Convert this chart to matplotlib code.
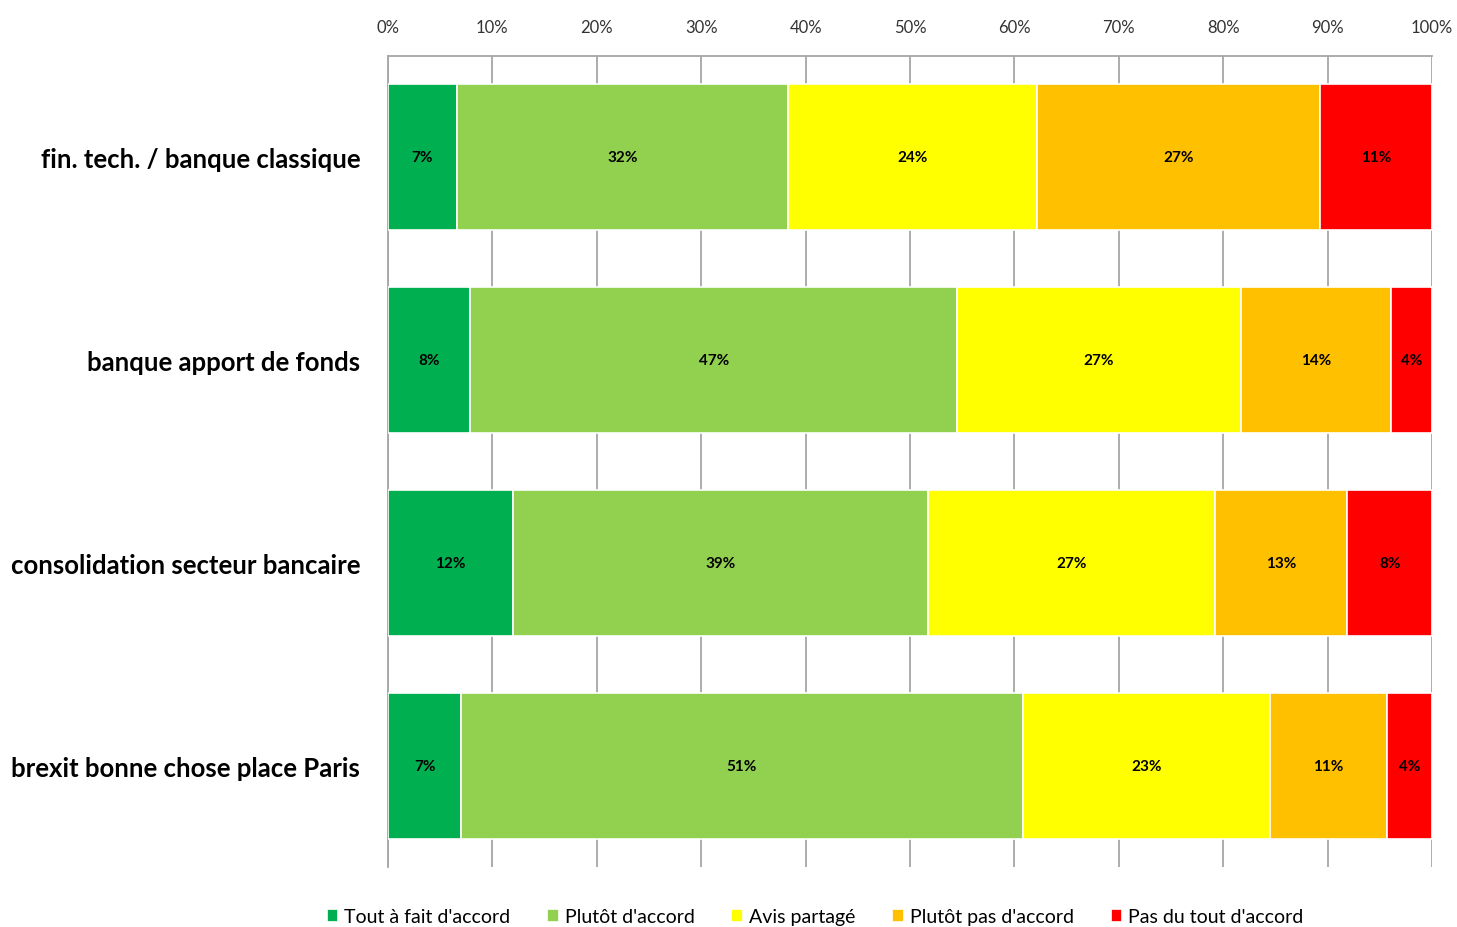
import matplotlib
matplotlib.use("Agg")
import matplotlib.pyplot as plt
import numpy as np

categories = ["fin. tech. / banque classique", "banque apport de fonds",
              "consolidation secteur bancaire", "brexit bonne chose place Paris"]
series_names = ["Tout à fait d'accord", "Plutôt d'accord", "Avis partagé",
                "Plutôt pas d'accord", "Pas du tout d'accord"]
# measured segment widths (%) per category
tout_fait = [6.6, 7.9, 12.0, 7.0]
plutot = [31.7, 46.6, 39.7, 53.8]
avis = [23.9, 27.2, 27.5, 23.7]
plutot_pas = [27.1, 14.4, 12.7, 11.2]
pas_du_tout = [10.7, 3.9, 8.1, 4.3]
# labels as printed on the chart
labels_tout_fait = ["7%", "8%", "12%", "7%"]
labels_plutot = ["32%", "47%", "39%", "51%"]
labels_avis = ["24%", "27%", "27%", "23%"]
labels_plutot_pas = ["27%", "14%", "13%", "11%"]
labels_pas_du_tout = ["11%", "4%", "8%", "4%"]
xticks = [0, 10, 20, 30, 40, 50, 60, 70, 80, 90, 100]

colors = ["#00B050", "#92D050", "#FFFF00", "#FFC000", "#FF0000"]
series = [tout_fait, plutot, avis, plutot_pas, pas_du_tout]
series_labels = [labels_tout_fait, labels_plutot, labels_avis, labels_plutot_pas, labels_pas_du_tout]

plt.rcParams['font.family'] = ['Lato', 'DejaVu Sans']

fig = plt.figure(figsize=(14.57, 9.28), dpi=100)
ax = fig.add_axes([388/1457, 1-868/928, (1432-388)/1457, (868-57)/928])

y = np.arange(len(categories))
left = np.zeros(len(categories))
handles = []
for vals, labs, col, name in zip(series, series_labels, colors, series_names):
    v = np.array(vals)
    b = ax.barh(y, v, left=left, height=0.72, color=col, edgecolor="white",
                linewidth=1.2, label=name, zorder=3)
    handles.append(b)
    for yi, li, vi, lab in zip(y, left, v, labs):
        ax.text(li + vi/2, yi, lab, ha="center", va="center", fontsize=11,
                fontweight="bold", color="black", zorder=4)
    left = left + v

ax.set_xlim(0, 100)
ax.set_ylim(len(categories) - 0.5, -0.5)
ax.set_yticks(y)
ax.set_yticklabels(categories, fontsize=18.5, fontweight="bold")
ax.set_xticks(xticks)
ax.set_xticklabels([f"{t}%" for t in xticks], fontsize=12, color="#333333")
ax.xaxis.tick_top()
ax.tick_params(axis="x", length=0, pad=15)
ax.tick_params(axis="y", length=0, pad=20)
ax.grid(axis="x", color="#A6A6A6", linewidth=1.3, zorder=0)
for s in ["bottom", "right"]:
    ax.spines[s].set_visible(False)
for s in ["top", "left"]:
    ax.spines[s].set_color("#A6A6A6")
    ax.spines[s].set_linewidth(1.3)

fig.legend(handles=handles, labels=series_names, loc="center",
           bbox_to_anchor=(815/1457, 1-918/928), ncol=5, frameon=False,
           fontsize=14, handlelength=0.6, handleheight=0.6,
           handletextpad=0.3, columnspacing=1.9)

fig.savefig("out.png", dpi=100)
